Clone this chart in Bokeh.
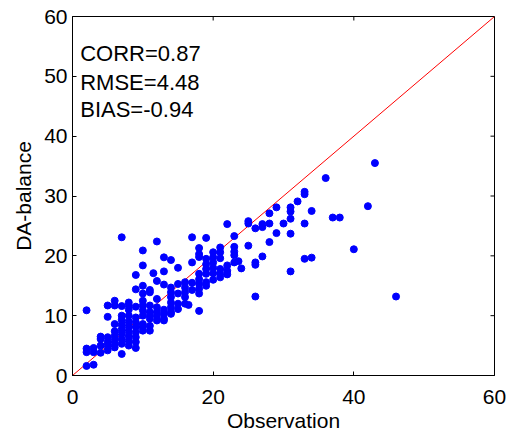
from bokeh.plotting import figure
from bokeh.models import Range1d, FixedTicker, ColumnDataSource
from bokeh.core.properties import value
from bokeh.embed import file_html
from bokeh.resources import INLINE

# Observation (x) and DA-balance (y) values
obs = [
    2, 2, 2, 2,
    3, 3, 3,
    4, 4, 4, 4,
    5, 5, 5, 5, 5, 5,
    6, 6, 6, 6, 6, 6, 6, 6,
    7, 7, 7, 7, 7, 7, 7, 7, 7, 7,
    8, 8, 8, 8, 8, 8, 8, 8, 8, 8,
    9, 9, 9, 9, 9, 9, 9, 9, 9, 9,
    10, 10, 10, 10, 10, 10, 10, 10, 10, 10, 10,
    11, 11, 11, 11, 11, 11, 11, 11,
    11.5,
    12, 12, 12, 12, 12, 12, 12,
    13, 13, 13, 13, 13, 13, 13,
    14, 14, 14, 14, 14, 14, 14, 14,
    15, 15, 15, 15, 15,
    16, 16, 16, 16, 16,
    16.5,
    17, 17, 17, 17,
    18, 18, 18, 18, 18, 18, 18, 18, 18,
    19, 19, 19, 19, 19, 19, 19,
    20, 20, 20, 20, 20, 20,
    21, 21, 21, 21, 21, 21,
    22, 22, 22, 22,
    23, 23, 23, 23, 23,
    23.6, 24,
    25, 25, 25,
    26, 26, 26, 26,
    27, 27, 27,
    28, 28, 28,
    29, 29,
    30,
    31, 31, 31, 31, 31,
    32,
    33, 33, 33, 33,
    34, 34,
    36, 37, 38, 40, 42, 43, 46,
]
da_balance = [
    10.9, 4.5, 3.9, 1.6,
    4.6, 3.9, 1.8,
    6.5, 6.1, 5.0, 3.8,
    11.7, 9.8, 6.4, 5.6, 5.0, 4.2,
    12.5, 11.7, 8.6, 7.4, 6.6, 5.9, 5.3, 4.7,
    23.1, 11.6, 10.0, 9.3, 8.5, 7.7, 7.0, 6.1, 5.3, 3.6,
    12.2, 11.7, 11.0, 10.0, 9.0, 8.2, 7.4, 6.6, 5.8, 5.0,
    16.8, 14.4, 11.5, 9.7, 8.9, 8.1, 7.2, 6.4, 5.6, 4.6,
    20.9, 18.4, 15.0, 13.7, 12.5, 11.7, 10.9, 10.0, 8.6, 8.1, 7.5,
    14.3, 13.9, 11.7, 10.6, 10.0, 9.5, 8.3, 7.5,
    17.1,
    22.4, 15.8, 12.8, 11.4, 10.6, 10.0, 9.2,
    19.75, 17.4, 15.2, 11.0, 10.3, 9.5, 9.2,
    19.3, 14.7, 13.9, 13.1, 12.2, 11.4, 10.6, 10.3,
    18.0, 15.3, 13.7, 12.0, 11.1,
    15.6, 14.7, 13.9, 13.1, 12.0,
    11.8,
    23.1, 18.9, 15.5, 14.3,
    21.3, 20.3, 19.8, 17.0, 16.1, 15.3, 14.5, 13.7, 10.8,
    23.0, 19.5, 18.6, 17.8, 17.0, 15.6, 15.0,
    20.6, 19.75, 18.9, 18.0, 17.1, 16.0,
    21.4, 20.6, 19.6, 17.8, 17.0, 16.4,
    25.3, 18.4, 17.5, 16.9,
    23.3, 21.5, 20.7, 20.1, 18.9,
    19.1, 17.9,
    25.8, 25.4, 21.7,
    24.6, 18.9, 18.5, 13.2,
    25.3, 24.8, 19.9,
    27.1, 25.4, 22.3,
    28.1, 23.8,
    25.4,
    28.1, 27.4, 26.2, 23.7, 17.4,
    29.1,
    30.7, 30.3, 25.4, 19.5,
    27.5, 19.7,
    33.0, 26.4, 26.4, 21.1, 28.3, 35.5, 13.2,
]

# 1:1 reference line endpoints (axis limits)
axis_limits = [0, 60]
x_ticks = [0, 20, 40, 60]
y_ticks = [0, 10, 20, 30, 40, 50, 60]

# statistics annotation
stat_labels = ["CORR=0.87", "RMSE=4.48", "BIAS=-0.94"]
stat_x = [1.1, 1.1, 1.1]
stat_y = [53.75, 49.0, 44.4]

FONT = "Liberation Sans"
FS = "21px"
FS_STAT = "22px"
W, H = 507, 434
BL, BR, BT, BB = 72, 13, 16, 59
TICK_PX = 4

p = figure(width=W, height=H, output_backend="svg", toolbar_location=None,
           x_range=Range1d(axis_limits[0], axis_limits[1]),
           y_range=Range1d(axis_limits[0], axis_limits[1]),
           min_border_left=BL, min_border_right=BR,
           min_border_top=BT, min_border_bottom=BB)
p.outline_line_color = "black"
p.outline_line_alpha = 1.0
p.xgrid.visible = False
p.ygrid.visible = False
p.background_fill_color = "white"
p.border_fill_color = "white"

p.line(axis_limits, axis_limits, line_color="red", line_width=1)

src = ColumnDataSource(dict(x=obs, y=da_balance))
p.scatter("x", "y", source=src, size=7, fill_color="blue", line_color="blue")

p.text(x=stat_x, y=stat_y, text=stat_labels, text_font=value(FONT),
       text_font_size=FS_STAT, text_baseline="middle", text_align="left", text_color="black")

# inward ticks on the top and right edges of the box (MATLAB style)
span = axis_limits[1] - axis_limits[0]
dy = TICK_PX * span / (H - BT - BB)
dx = TICK_PX * span / (W - BL - BR)
top_y = axis_limits[1]
right_x = axis_limits[1]
p.segment(x0=x_ticks, y0=[top_y] * len(x_ticks), x1=x_ticks, y1=[top_y - dy] * len(x_ticks),
          line_color="black", line_width=1)
p.segment(x0=[right_x] * len(y_ticks), y0=y_ticks, x1=[right_x - dx] * len(y_ticks), y1=y_ticks,
          line_color="black", line_width=1)

for ax, ticks in ((p.xaxis[0], x_ticks), (p.yaxis[0], y_ticks)):
    ax.ticker = FixedTicker(ticks=ticks)
    ax.major_tick_in = TICK_PX
    ax.major_tick_out = 0
    ax.minor_tick_in = 0
    ax.minor_tick_out = 0
    ax.axis_line_color = "black"
    ax.major_tick_line_color = "black"
    ax.major_label_text_font = FONT
    ax.major_label_text_color = "black"
    ax.major_label_text_font_size = FS
    ax.axis_label_text_font = FONT
    ax.axis_label_text_font_size = FS
    ax.axis_label_text_font_style = "normal"
    ax.axis_label_text_color = "black"

p.xaxis[0].axis_label = "Observation"
p.yaxis[0].axis_label = "DA-balance"
p.xaxis[0].major_label_standoff = 14
p.yaxis[0].major_label_standoff = 5
p.xaxis[0].axis_label_standoff = 2
p.yaxis[0].axis_label_standoff = 6

open("out.html", "w").write(file_html(p, INLINE))
